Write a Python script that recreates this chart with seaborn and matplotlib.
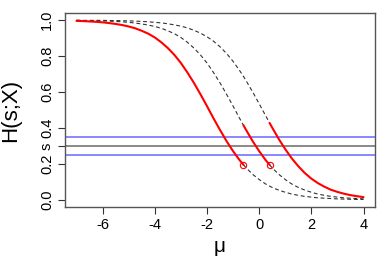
import numpy as np
import matplotlib
matplotlib.use('Agg')
import matplotlib.pyplot as plt
import seaborn as sns

# Values
mu = [-7.0, -6.75, -6.5, -6.25, -6.0, -5.75, -5.5, -5.25, -5.0, -4.75,
      -4.5, -4.25, -4.0, -3.75, -3.5, -3.25, -3.0, -2.75, -2.5, -2.25,
      -2.0, -1.75, -1.5, -1.25, -1.0, -0.75, -0.6, -0.5, -0.25, 0.0,
      0.25, 0.4, 0.5, 0.75, 1.0, 1.25, 1.5, 1.75, 2.0, 2.25,
      2.5, 2.75, 3.0, 3.25, 3.5, 3.75, 4.0]
h_left = [0.996, 0.995, 0.993, 0.991, 0.988, 0.984, 0.979, 0.973, 0.965, 0.955,
          0.941, 0.925, 0.904, 0.877, 0.845, 0.807, 0.762, 0.709, 0.651, 0.588,
          0.522, 0.454, 0.389, 0.327, 0.271, 0.221, 0.195, 0.178, 0.142, 0.113,
          0.088, 0.076, 0.069, 0.054, 0.042, 0.032, 0.025, 0.019, 0.015, 0.011,
          0.009, 0.007, 0.005, 0.004, 0.003, 0.002, 0.002]
h_mid = [0.999, 0.998, 0.998, 0.997, 0.996, 0.995, 0.993, 0.991, 0.988, 0.984,
         0.979, 0.973, 0.965, 0.955, 0.941, 0.925, 0.904, 0.877, 0.845, 0.807,
         0.762, 0.709, 0.651, 0.588, 0.522, 0.454, 0.415, 0.389, 0.327, 0.271,
         0.221, 0.195, 0.178, 0.142, 0.113, 0.088, 0.069, 0.054, 0.042, 0.032,
         0.025, 0.019, 0.015, 0.011, 0.009, 0.007, 0.005]
h_right = [1.000, 0.999, 0.999, 0.999, 0.999, 0.998, 0.998, 0.997, 0.996, 0.995,
           0.993, 0.991, 0.988, 0.985, 0.980, 0.974, 0.967, 0.957, 0.944, 0.928,
           0.908, 0.883, 0.852, 0.815, 0.771, 0.720, 0.687, 0.663, 0.601, 0.535,
           0.468, 0.428, 0.402, 0.339, 0.282, 0.231, 0.187, 0.149, 0.118, 0.093,
           0.073, 0.056, 0.044, 0.034, 0.026, 0.020, 0.015]
switch_mu = [-0.6, 0.4]
s_level = 0.3
band = [0.25, 0.35]
yticks = [0.0, 0.2, 0.4, 0.6, 0.8, 1.0]
ytick_labels = ['0.0', '0.2', '0.4', '0.6', '0.8', '1.0']
xticks = [-6, -4, -2, 0, 2, 4]

sns.set_style('ticks')
plt.rcParams['font.family'] = ['Liberation Sans', 'DejaVu Sans']
plt.rcParams['axes.unicode_minus'] = False
plt.rcParams['lines.dashed_pattern'] = [3.5, 2.5]
plt.rcParams['text.color'] = 'black'
plt.rcParams['axes.labelcolor'] = 'black'
plt.rcParams['xtick.color'] = 'black'
plt.rcParams['ytick.color'] = 'black'

mu_a = np.array(mu)
curves = [np.array(h_left), np.array(h_mid), np.array(h_right)]
lo = [mu_a.min()] + switch_mu
hi = switch_mu + [mu_a.max()]

fig = plt.figure(figsize=(3.88, 2.59), dpi=100)
ax = fig.add_axes([0.1675, 0.2008, 0.799, 0.749])

# horizontal reference lines
ax.axhline(band[0], color='#7f7fff', lw=1.3, zorder=1)
ax.axhline(band[1], color='#7f7fff', lw=1.3, zorder=1)
ax.axhline(s_level, color='#808080', lw=1.3, zorder=1)

for h, a, b in zip(curves, lo, hi):
    red = (mu_a >= a) & (mu_a <= b)
    before = mu_a <= a
    after = mu_a >= b
    for m in [before, after]:
        if m.sum() > 1:
            sns.lineplot(x=mu_a[m], y=h[m], ax=ax, color='#333333', lw=0.8,
                         linestyle='--', zorder=2)
    sns.lineplot(x=mu_a[red], y=h[red], ax=ax, color='red', lw=1.5, zorder=3)

# open circles where the red segments end
for h, m in zip(curves[:2], switch_mu):
    i = mu.index(m)
    ax.plot(mu[i], h[i], 'o', ms=4.5, mfc='none', mec='red', mew=0.8, zorder=4)

ax.set_xlim(-7.44, 4.44)
ax.set_ylim(-0.04, 1.04)
ax.set_xticks(xticks)
ax.set_xticklabels([str(t) for t in xticks], fontsize=10.5)
ax.set_yticks(yticks + [s_level])
ax.set_yticklabels(ytick_labels + ['s'], fontsize=10.5, rotation=90, va='center')
ax.tick_params(direction='out', length=5, width=0.8, color='#333333', pad=3)

for sp in ax.spines.values():
    sp.set_visible(True)
    sp.set_color('#555555')
    sp.set_linewidth(1.0)

ax.set_xlabel('μ', fontsize=15)
ax.set_ylabel('H(s;X)', fontsize=16)
ax.xaxis.set_label_coords(0.5, -0.155)
ax.yaxis.set_label_coords(-0.14, 0.5)

fig.savefig('out.png', dpi=100)
